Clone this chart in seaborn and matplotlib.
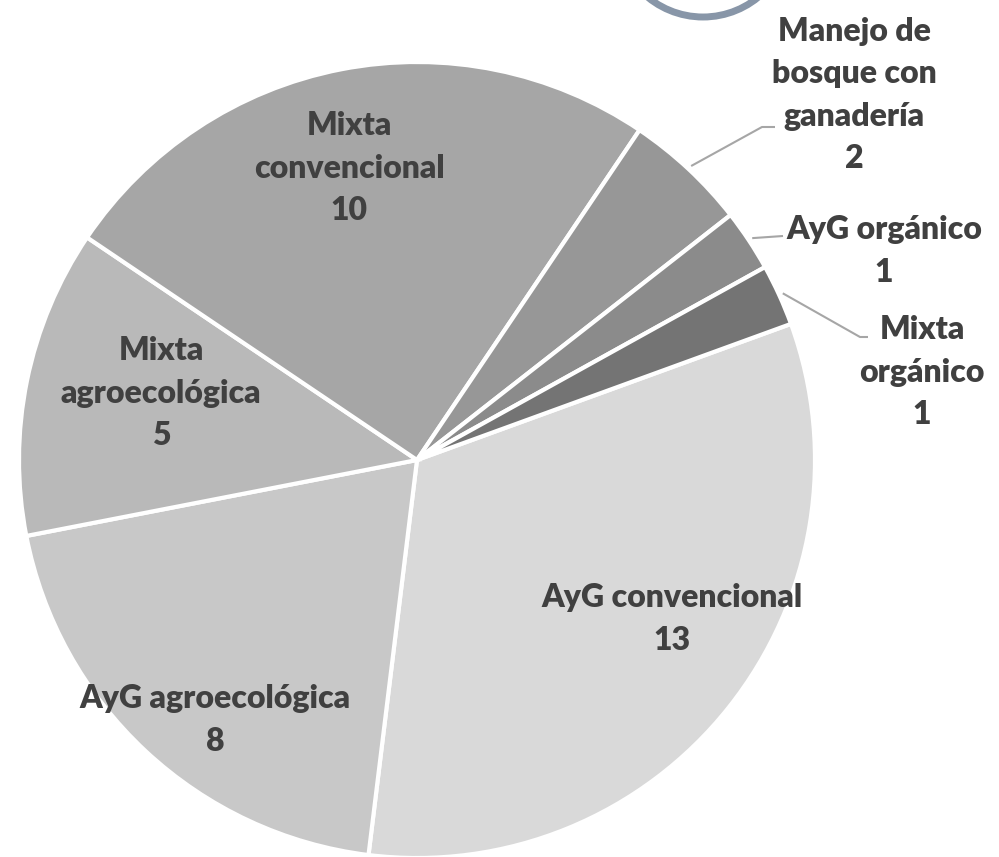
import numpy as np
import matplotlib
matplotlib.use("Agg")
import matplotlib.pyplot as plt
import seaborn as sns
from matplotlib.patches import Circle

# ---- data ----
categories = ["AyG convencional", "AyG agroecológica", "Mixta agroecológica",
              "Mixta convencional", "Manejo de bosque con ganadería",
              "AyG orgánico", "Mixta orgánico"]
label_text = ["AyG convencional", "AyG agroecológica", "Mixta\nagroecológica",
              "Mixta\nconvencional", "Manejo de\nbosque con\nganadería",
              "AyG orgánico", "Mixta\norgánico"]
values = [13, 8, 5, 10, 2, 1, 1]
colors = ["#d9d9d9", "#c8c8c8", "#b9b9b9", "#a6a6a6", "#979797", "#8b8b8b", "#747474"]

# ---- layout (pixel coords, origin top-left) ----
W, H = 999, 857
CX, CY, R = 417, 460, 398
label_pos = [(672, 619), (215, 720), (161, 393), (349, 168), (854, 95), (884, 251), (922, 372)]
leader_pts = {4: [(762, 127), (775, 127)], 5: [(783, 236)], 6: [(860, 337), (868, 337)]}

sns.set_theme(style="white")
plt.rcParams['font.family'] = ['Lato', 'DejaVu Sans']

fig = plt.figure(figsize=(W / 100, H / 100), dpi=100)
ax = fig.add_axes([0, 0, 1, 1])

def Y(y):
    return H - y

wedges, _ = ax.pie(values, colors=colors, startangle=20, counterclock=False,
                   center=(CX, Y(CY)), radius=R,
                   wedgeprops=dict(edgecolor="white", linewidth=3))
ax.set_xlim(0, W)
ax.set_ylim(0, H)
ax.set_aspect('equal')
ax.axis('off')

txt_color = "#404040"
for i, (lab, v) in enumerate(zip(label_text, values)):
    x, y = label_pos[i]
    ax.text(x, Y(y), f"{lab}\n{v}", ha="center", va="center", fontsize=23,
            fontweight="heavy", color=txt_color, linespacing=1.55)

for i, pts in leader_pts.items():
    w = wedges[i]
    ang = np.deg2rad((w.theta1 + w.theta2) / 2)
    sx = CX + R * 1.01 * np.cos(ang)
    sy = Y(CY) + R * 1.01 * np.sin(ang)
    xs = [sx] + [p[0] for p in pts]
    ys = [sy] + [Y(p[1]) for p in pts]
    ax.plot(xs, ys, color="#a6a6a6", lw=1.5, solid_capstyle="butt")

# decorative circle at top right
ax.add_patch(Circle((703, Y(-70)), 87, fill=False, edgecolor="#8896a8", linewidth=5))

fig.savefig("out.png", dpi=100)
